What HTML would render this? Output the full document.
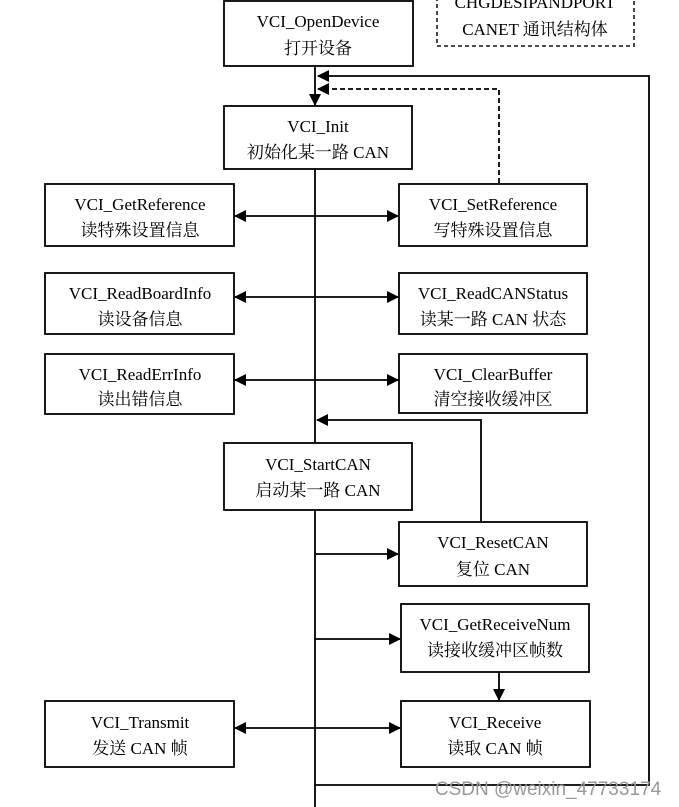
<!DOCTYPE html>
<html><head><meta charset="utf-8"><style>
html,body{margin:0;padding:0;background:#fff;}
svg{display:block;}
text{font-family:"Liberation Serif","Noto Serif CJK SC",serif;font-size:17px;fill:#000;text-anchor:middle;}
</style></head><body>
<svg width="679" height="807" viewBox="0 0 679 807" xmlns="http://www.w3.org/2000/svg">
<defs>
<marker id="a" markerWidth="12" markerHeight="12" refX="11" refY="6" orient="auto" markerUnits="userSpaceOnUse">
<path d="M0,0 L12,6 L0,12 z" fill="#000"/></marker>
<marker id="s" markerWidth="12" markerHeight="12" refX="1" refY="6" orient="auto" markerUnits="userSpaceOnUse">
<path d="M12,0 L0,6 L12,12 z" fill="#000"/></marker>
</defs>
<g fill="none" stroke="#000" stroke-width="1.8">
<line x1="315" y1="66" x2="315" y2="105" marker-end="url(#a)"/>
<line x1="315" y1="169" x2="315" y2="443"/>
<line x1="315" y1="510" x2="315" y2="807"/>
<polyline points="315,785 649,785 649,76 318,76" marker-end="url(#a)"/>
<polyline points="499,183 499,89 318,89" stroke-dasharray="5,3" marker-end="url(#a)"/>
<line x1="235" y1="216" x2="398" y2="216" marker-start="url(#s)" marker-end="url(#a)"/>
<line x1="235" y1="297" x2="398" y2="297" marker-start="url(#s)" marker-end="url(#a)"/>
<line x1="235" y1="380" x2="398" y2="380" marker-start="url(#s)" marker-end="url(#a)"/>
<polyline points="481,522 481,420 317,420" marker-end="url(#a)"/>
<line x1="315" y1="554" x2="398" y2="554" marker-end="url(#a)"/>
<line x1="315" y1="639" x2="400" y2="639" marker-end="url(#a)"/>
<line x1="499" y1="672" x2="499" y2="700" marker-end="url(#a)"/>
<line x1="235" y1="728" x2="400" y2="728" marker-start="url(#s)" marker-end="url(#a)"/>
<rect x="224" y="1" width="189" height="65"/>
<rect x="224" y="106" width="188" height="63"/>
<rect x="45" y="184" width="189" height="62"/>
<rect x="399" y="184" width="188" height="62"/>
<rect x="45" y="273" width="189" height="61"/>
<rect x="399" y="273" width="188" height="61"/>
<rect x="45" y="354" width="189" height="60"/>
<rect x="399" y="354" width="188" height="59"/>
<rect x="224" y="443" width="188" height="67"/>
<rect x="399" y="522" width="188" height="64"/>
<rect x="401" y="604" width="188" height="68"/>
<rect x="45" y="701" width="189" height="66"/>
<rect x="401" y="701" width="189" height="66"/>
<rect x="437" y="-5" width="197" height="51" stroke="#333" stroke-dasharray="4,3"/>
</g>
<text x="318" y="27">VCI_OpenDevice</text><text x="318" y="54">打开设备</text>
<text x="318" y="132">VCI_Init</text><text x="318" y="158">初始化某一路 CAN</text>
<text x="140" y="210">VCI_GetReference</text><text x="140" y="236">读特殊设置信息</text>
<text x="493" y="210">VCI_SetReference</text><text x="493" y="236">写特殊设置信息</text>
<text x="140" y="299">VCI_ReadBoardInfo</text><text x="140" y="325">读设备信息</text>
<text x="493" y="299">VCI_ReadCANStatus</text><text x="493" y="325">读某一路 CAN 状态</text>
<text x="140" y="380">VCI_ReadErrInfo</text><text x="140" y="405">读出错信息</text>
<text x="493" y="380">VCI_ClearBuffer</text><text x="493" y="405">清空接收缓冲区</text>
<text x="318" y="470">VCI_StartCAN</text><text x="318" y="496">启动某一路 CAN</text>
<text x="493" y="548">VCI_ResetCAN</text><text x="493" y="575">复位 CAN</text>
<text x="495" y="630">VCI_GetReceiveNum</text><text x="495" y="656">读接收缓冲区帧数</text>
<text x="140" y="728">VCI_Transmit</text><text x="140" y="754">发送 CAN 帧</text>
<text x="495" y="728">VCI_Receive</text><text x="495" y="754">读取 CAN 帧</text>
<text x="535" y="8">CHGDESIPANDPORT</text><text x="535" y="35">CANET 通讯结构体</text>
<text x="548" y="795" style="font-family:'Liberation Sans','DejaVu Sans',sans-serif;font-size:19px;fill:#999;">CSDN @weixin_47733174</text>
</svg>
</body></html>
